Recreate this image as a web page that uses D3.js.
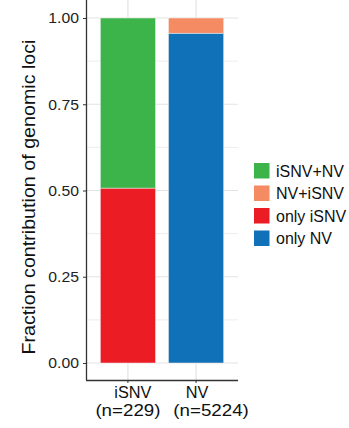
<!DOCTYPE html>
<html><head><meta charset="utf-8">
<script src="https://cdn.jsdelivr.net/npm/d3@7"></script>
<style>body{margin:0;background:#fff}svg{display:block;font-family:"Liberation Sans",Arial,sans-serif}</style>
</head><body><div id="chart"></div>
<script>
const categories = ["iSNV", "NV"];
const categoryCounts = ["(n=229)", "(n=5224)"];
const seriesNames = ["only NV", "only iSNV", "NV+iSNV", "iSNV+NV"];
const onlyNV = [0, 0.956];
const onlyISNV = [0.507, 0];
const nvPlusISNV = [0, 0.044];
const isnvPlusNV = [0.493, 0];
const legendOrder = ["iSNV+NV", "NV+iSNV", "only iSNV", "only NV"];
const colors = {"iSNV+NV": "#3cb44a", "NV+iSNV": "#f58b62", "only iSNV": "#ec1c24", "only NV": "#1071b9"};
const yTicks = [0, 0.25, 0.5, 0.75, 1.0];

(function () {
const W = 349, H = 428;
const svg = d3.select("#chart").append("svg").attr("width", W).attr("height", H);
const pL = 86, pR = 238, pT = 0, pB = 380;
const FF = "Liberation Sans, Arial, sans-serif";

function stretch(sel, k) {
  sel.each(function () {
    const w = this.getComputedTextLength();
    d3.select(this).attr("textLength", w * k).attr("lengthAdjust", "spacingAndGlyphs");
  });
}

const x = d3.scaleBand().domain(categories).range([pL, pR]).paddingInner(0.19).paddingOuter(0.21);
const y = d3.scaleLinear().domain([0, 1]).range([363, 18]);

// grid
const g = svg.append("g");
const minor = [0.125, 0.375, 0.625, 0.875];
g.selectAll(".mn").data(minor).join("line").attr("x1", pL).attr("x2", pR)
  .attr("y1", d => y(d)).attr("y2", d => y(d)).attr("stroke", "#ededed").attr("stroke-width", 1);
g.selectAll(".mj").data(yTicks).join("line").attr("x1", pL).attr("x2", pR)
  .attr("y1", d => y(d)).attr("y2", d => y(d)).attr("stroke", "#e3e3e3").attr("stroke-width", 1.2);
g.selectAll(".vx").data(categories).join("line").attr("x1", d => x(d) + x.bandwidth() / 2).attr("x2", d => x(d) + x.bandwidth() / 2)
  .attr("y1", pT).attr("y2", pB).attr("stroke", "#e3e3e3").attr("stroke-width", 1.2);

// stacked bars
const rows = categories.map((c, i) => ({cat: c, "only NV": onlyNV[i], "only iSNV": onlyISNV[i], "NV+iSNV": nvPlusISNV[i], "iSNV+NV": isnvPlusNV[i]}));
const stack = d3.stack().keys(seriesNames)(rows);
svg.append("g").selectAll("g").data(stack).join("g").attr("fill", d => colors[d.key])
  .selectAll("rect").data(d => d).join("rect")
  .attr("x", d => x(d.data.cat)).attr("width", x.bandwidth())
  .attr("y", d => y(d[1])).attr("height", d => Math.max(0, y(d[0]) - y(d[1])))
  .attr("stroke", "#f2f2f2").attr("stroke-width", 0.5);

// axes
const ya = svg.append("g").attr("transform", `translate(${pL},0)`)
  .call(d3.axisLeft(y).tickValues(yTicks).tickFormat(d3.format(".2f")).tickSize(3).tickPadding(4));
ya.select(".domain").attr("d", `M0.5,${pT}V${pB}`).attr("stroke", "#333").attr("stroke-width", 1.3);
ya.selectAll(".tick line").attr("stroke", "#333");
ya.selectAll(".tick text").attr("font-size", 15).attr("fill", "#222").attr("font-family", FF);
stretch(ya.selectAll(".tick text"), 1.05);

const xa = svg.append("g").attr("transform", `translate(0,${pB})`)
  .call(d3.axisBottom(x).tickSize(3).tickFormat(""));
xa.select(".domain").attr("d", `M${pL},0.5H${pR}`).attr("stroke", "#333").attr("stroke-width", 1.3);
xa.selectAll(".tick line").attr("stroke", "#333");
const dx1 = [5, 1], dx2 = [0, 15];
xa.selectAll(".tick").each(function(d, i) {
  const a = d3.select(this).append("text").attr("fill", "#111").attr("font-size", 16.3).attr("text-anchor", "middle")
    .attr("font-family", FF).attr("x", dx1[i]).attr("y", 18).text(d);
  const b = d3.select(this).append("text").attr("fill", "#111").attr("font-size", 16.3).attr("text-anchor", "middle")
    .attr("font-family", FF).attr("x", dx2[i]).attr("y", 36).text(categoryCounts[i]);
  stretch(b, 1.15);
});

// y title
svg.append("text").attr("transform", `translate(35,${197}) rotate(-90)`)
  .attr("text-anchor", "middle").attr("font-size", 17.5).attr("fill", "#111").attr("font-family", FF)
  .attr("textLength", 315).attr("lengthAdjust", "spacingAndGlyphs")
  .text("Fraction contribution of genomic loci");

// legend
const lg = svg.append("g").attr("transform", "translate(254,163)");
legendOrder.forEach((k, i) => {
  const r = lg.append("g").attr("transform", `translate(0,${i * 22.5})`);
  r.append("rect").attr("width", 15.5).attr("height", 15.5).attr("fill", colors[k]);
  r.append("text").attr("x", 22).attr("y", 13.7).attr("font-size", 16).attr("fill", "#111").attr("font-family", FF).text(k);
});
})();
</script></body></html>
